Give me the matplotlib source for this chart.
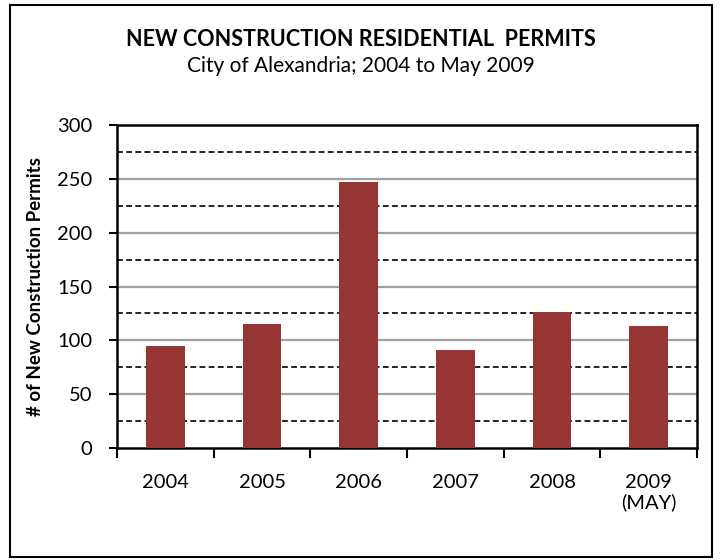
import matplotlib
matplotlib.use("Agg")
import matplotlib.pyplot as plt
from matplotlib.patches import Rectangle
import numpy as np

categories = ["2004", "2005", "2006", "2007", "2008", "2009\n(MAY)"]
permits = [95, 115, 247, 91, 126, 113]

plt.rcParams['font.family'] = ['Lato', 'DejaVu Sans']

fig = plt.figure(figsize=(7.21, 5.60), dpi=100)
ax = fig.add_axes([117/721, 1-448/560, (697-117)/721, (448-125)/560])

x = np.arange(len(categories))
ax.bar(x, permits, width=0.4, color="#963634", zorder=3)

ax.set_xlim(-0.5, len(categories) - 0.5)
ax.set_ylim(0, 300)
ax.set_yticks(np.arange(0, 301, 50))
ax.tick_params(axis='y', labelsize=14.5, length=6, width=1.5, direction='out', pad=12)

ax.set_xticks(np.arange(-0.5, len(categories), 1))
ax.set_xticklabels([])
ax.set_xticks(x, minor=True)
ax.set_xticklabels(categories, minor=True, fontsize=14.5, linespacing=1.1)
ax.tick_params(axis='x', which='major', length=7, width=1.5, direction='out')
ax.tick_params(axis='x', which='minor', length=0, pad=19)

for v in range(50, 300, 50):
    ax.axhline(v, color="#a0a0a0", lw=1.6, zorder=1)
for v in range(25, 300, 50):
    ax.axhline(v, color="black", lw=1.2, ls=(0, (3.5, 2)), zorder=1)

for s in ax.spines.values():
    s.set_linewidth(1.8)
    s.set_color("black")

ax.set_ylabel("# of New Construction Permits", fontsize=13.5, fontweight='bold', labelpad=9)

fig.text(0.5, 1-39/560, "NEW CONSTRUCTION RESIDENTIAL  PERMITS", ha='center', va='center',
         fontsize=15.5, fontweight='bold')
fig.text(0.5, 1-66/560, "City of Alexandria; 2004 to May 2009", ha='center', va='center',
         fontsize=15)

fig.patches.append(Rectangle((10/721, 3/560), (712-10)/721, (555-3)/560, transform=fig.transFigure,
                             fill=False, edgecolor='black', lw=1.5))

fig.savefig("out.png", dpi=100)
